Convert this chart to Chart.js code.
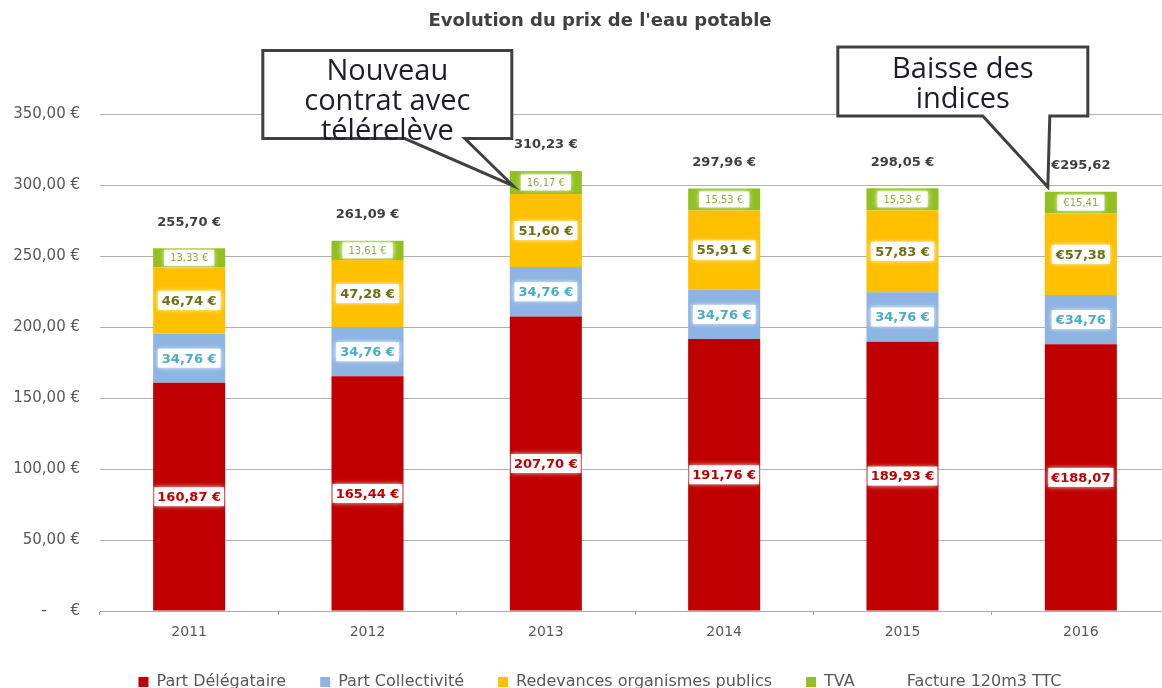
<!DOCTYPE html>
<html lang="fr">
<head>
<meta charset="utf-8">
<title>Evolution du prix de l'eau potable</title>
<script src="https://cdn.jsdelivr.net/npm/chart.js@4.4.1/dist/chart.umd.min.js"></script>
<style>
  html, body { margin: 0; padding: 0; background: #fff; overflow: hidden; }
  #wrap { width: 1200px; height: 700px; }
</style>
</head>
<body>
<div id="wrap"><canvas id="chart" width="1200" height="700"></canvas></div>
<script>
// données
const years = ['2011', '2012', '2013', '2014', '2015', '2016']
const partDelegataire = [160.87, 165.44, 207.70, 191.76, 189.93, 188.07]
const partCollectivite = [34.76, 34.76, 34.76, 34.76, 34.76, 34.76]
const redevances = [46.74, 47.28, 51.60, 55.91, 57.83, 57.38]
const tva = [13.33, 13.61, 16.17, 15.53, 15.53, 15.41]
const facture = [255.70, 261.09, 310.23, 297.96, 298.05, 295.62]
const yTicks = [0, 50, 100, 150, 200, 250, 300, 350]

const FONT = "'DejaVu Sans', sans-serif"
const BIG_FONT = "'Open Sans', sans-serif"

// la dernière année est affichée "€xx,xx"
function fmtLabel(v, i) {
    const s = v.toFixed(2).replace('.', ',')
    return i === years.length - 1 ? '€' + s : s + ' €'
}

function fmtTick(v) {
    if (v === 0) return '-     €'
    return v.toFixed(2).replace('.', ',') + ' €'
}

// le titre et la légende sont centrés sur la page, pas sur la zone de tracé
const centerShift = {
    id: 'centerShift',
    afterLayout(chart) {
        const dx = (chart.width - chart.legend.right - chart.legend.left) / 2
        chart.legend.left += dx
        chart.legend.right += dx
        chart.titleBlock.left += dx
        chart.titleBlock.right += dx
    }
}

// étiquettes blanches au milieu de chaque segment
const segmentLabels = {
    id: 'segmentLabels',
    afterDatasetsDraw(chart) {
        const ctx = chart.ctx
        chart.data.datasets.forEach((ds, di) => {
            const st = ds.labelStyle
            if (!st) return
            const meta = chart.getDatasetMeta(di)
            meta.data.forEach((bar, i) => {
                const text = fmtLabel(ds.data[i], i)
                const cy = (bar.y + bar.base) / 2
                ctx.save()
                ctx.font = `${st.weight} ${st.size}px ${FONT}`
                const w = ctx.measureText(text).width + st.padX * 2
                const h = st.size + 6
                ctx.shadowColor = 'rgba(255,255,255,0.95)'
                ctx.shadowBlur = 5
                ctx.fillStyle = '#ffffff'
                ctx.fillRect(bar.x - w / 2, cy - h / 2, w, h)
                ctx.shadowBlur = 0
                ctx.fillStyle = st.color
                ctx.textAlign = 'center'
                ctx.textBaseline = 'middle'
                ctx.fillText(text, bar.x, cy + 1)
                ctx.restore()
            })
        })
    }
}

// totaux au-dessus des barres
const totalLabels = {
    id: 'totalLabels',
    afterDatasetsDraw(chart) {
        const ctx = chart.ctx
        const di = chart.data.datasets.findIndex(d => d.type === 'line')
        const meta = chart.getDatasetMeta(di)
        ctx.save()
        ctx.font = `bold 13px ${FONT}`
        ctx.fillStyle = '#404040'
        ctx.textAlign = 'center'
        ctx.textBaseline = 'middle'
        meta.data.forEach((pt, i) => {
            ctx.fillText(fmtLabel(facture[i], i), pt.x, pt.y - 26)
        })
        ctx.restore()
    }
}

// bulles de commentaire
const callouts = [
    { index: 2, value: 300, lines: ['Nouveau', 'contrat avec', 'télérelève'],
      left: -250, right: -1, top: -135, bottom: -47, baseL: -108, baseR: -48, textTop: 21 },
    { index: 5, value: 299, lines: ['Baisse des', 'indices'],
      left: -210, right: 40, top: -140, bottom: -71, baseL: -65, baseR: 2, textTop: 23 }
]
const calloutPlugin = {
    id: 'callouts',
    afterDraw(chart) {
        const ctx = chart.ctx
        const meta = chart.getDatasetMeta(0)
        callouts.forEach(c => {
            const bar = meta.data[c.index]
            const tx = bar.x - bar.width / 2 + 3
            const ty = chart.scales.y.getPixelForValue(c.value)
            const L = tx + c.left, R = tx + c.right, T = ty + c.top, B = ty + c.bottom
            ctx.save()
            ctx.beginPath()
            ctx.moveTo(L, T)
            ctx.lineTo(R, T)
            ctx.lineTo(R, B)
            ctx.lineTo(tx + c.baseR, B)
            ctx.lineTo(tx, ty)
            ctx.lineTo(tx + c.baseL, B)
            ctx.lineTo(L, B)
            ctx.closePath()
            ctx.fillStyle = '#ffffff'
            ctx.fill()
            ctx.lineWidth = 3
            ctx.strokeStyle = '#404040'
            ctx.stroke()
            ctx.font = `29px ${BIG_FONT}`
            ctx.fillStyle = '#1d1d2b'
            ctx.textAlign = 'center'
            ctx.textBaseline = 'middle'
            c.lines.forEach((line, k) => {
                ctx.fillText(line, (L + R) / 2, T + c.textTop + k * 30)
            })
            ctx.restore()
        })
    }
}

const ctx = document.getElementById('chart').getContext('2d')

new Chart(ctx, {
    type: 'bar',
    data: {
        labels: years,
        datasets: [
            {
                label: 'Part Délégataire',
                data: partDelegataire,
                backgroundColor: '#C00000',
                labelStyle: { color: '#C00000', size: 13, weight: 'bold', padX: 3 }
            },
            {
                label: 'Part Collectivité',
                data: partCollectivite,
                backgroundColor: '#8EB4E3',
                labelStyle: { color: '#4BACC6', size: 13, weight: 'bold', padX: 4 }
            },
            {
                label: 'Redevances organismes publics',
                data: redevances,
                backgroundColor: '#FFC000',
                labelStyle: { color: '#6f6f12', size: 13, weight: 'bold', padX: 4 }
            },
            {
                label: 'TVA',
                data: tva,
                backgroundColor: '#92C020',
                labelStyle: { color: '#8caf3a', size: 10, weight: 'normal', padX: 6 }
            },
            {
                type: 'line',
                label: 'Facture 120m3 TTC',
                data: facture,
                showLine: false,
                pointRadius: 0,
                borderWidth: 0,
                borderColor: 'rgba(0,0,0,0)',
                backgroundColor: 'rgba(0,0,0,0)'
            }
        ]
    },
    options: {
        responsive: false,
        animation: false,
        datasets: {
            bar: { barPercentage: 0.404, categoryPercentage: 1 }
        },
        layout: { padding: { left: 0, right: 30, top: 0, bottom: 0 } },
        scales: {
            x: {
                stacked: true,
                afterFit: scale => { scale.height = 29 },
                grid: { offset: true, drawOnChartArea: false, drawTicks: true, tickLength: 4, color: '#a6a6a6' },
                border: { display: true, color: '#ababab' },
                ticks: { color: '#595959', font: { family: FONT, size: 14 }, padding: 9 }
            },
            y: {
                stacked: true,
                min: 0,
                max: 350,
                afterBuildTicks: scale => { scale.ticks = yTicks.map(v => ({ value: v })) },
                afterFit: scale => { scale.width = 100 },
                grid: { color: '#b0b0b0', drawTicks: false },
                border: { display: false },
                ticks: {
                    padding: 20,
                    color: '#595959',
                    font: { family: FONT, size: 15 },
                    callback: v => fmtTick(v)
                }
            }
        },
        plugins: {
            title: {
                display: true,
                text: "Evolution du prix de l'eau potable",
                color: '#404040',
                font: { family: FONT, size: 18, weight: 'bold' },
                padding: { top: 11, bottom: 82 }
            },
            legend: {
                position: 'bottom',
                labels: {
                    color: '#595959',
                    font: { family: FONT, size: 16 },
                    boxWidth: 10,
                    boxHeight: 10,
                    padding: 34
                }
            },
            tooltip: { enabled: false }
        }
    },
    plugins: [centerShift, segmentLabels, totalLabels, calloutPlugin]
})
</script>
</body>
</html>
